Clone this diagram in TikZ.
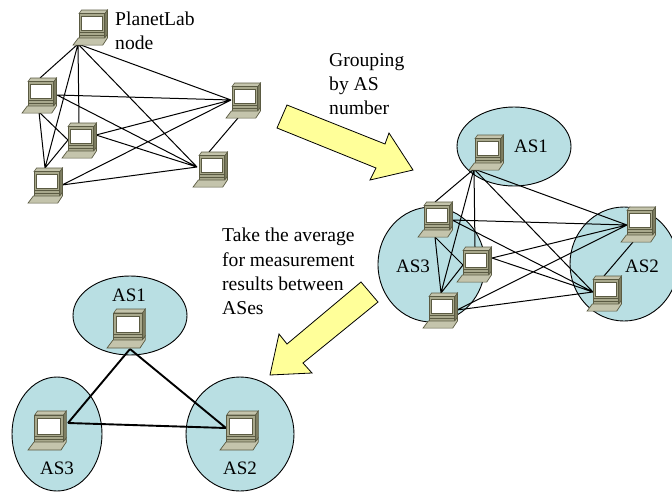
\documentclass[tikz,border=0pt]{standalone}
\usepackage{fontspec}
\setmainfont{Liberation Serif}
\usetikzlibrary{shapes.geometric}
\definecolor{asfill}{HTML}{B9DFE3}
\definecolor{arrowfill}{HTML}{FFFF99}
\definecolor{pcbody}{HTML}{A8A88C}
\definecolor{pcdark}{HTML}{5A5A42}
\definecolor{pcside}{HTML}{7E7E62}
\definecolor{pclight}{HTML}{C4C4AC}
\tikzset{
  asarea/.style={draw=black,fill=asfill,line width=0.9pt,ellipse,inner sep=0pt,outer sep=0pt},
  link/.style={draw=black,line width=1pt},
  strong/.style={draw=black,line width=1.9pt},
  bigarrow/.style={draw=black,fill=arrowfill,line width=0.8pt,line join=miter},
  lbl/.style={font=\fontsize{19.6}{24.3}\selectfont,align=left,inner sep=0pt},
  aslbl/.style={font=\fontsize{19}{22}\selectfont,inner sep=0pt},
  computer/.pic={
    \path[fill=pcside,draw=pcdark,line width=0.6pt] (35.3,4)--(38.3,0)--(38.3,27)--(35.3,31)--cycle;
    \path[fill=pclight,draw=pcdark,line width=0.6pt] (6.7,4)--(9.5,0)--(38.3,0)--(35.3,4)--cycle;
    \path[fill=pcbody,draw=pcdark,line width=0.9pt] (6.7,4) rectangle (35.3,25);
    \path[fill=white,draw=pcdark,line width=0.7pt] (9.3,7) rectangle (32.7,23);
    \path[fill=pcbody,draw=pcdark,line width=0.6pt] (6.7,25) rectangle (35.3,31);
    \path[draw=pcdark,line width=1.1pt] (6.7,28.5)--(35.3,28.5);
    \path[fill=pclight,draw=pcdark,line width=0.7pt] (6,31)--(35.3,31)--(38.3,27)--(38.3,31)--(33,39)--(0,39)--cycle;
  }
}
\begin{document}
\begin{tikzpicture}[x=1pt,y=-1pt]
\useasboundingbox (0,0) rectangle (672,493);
\clip (0,0) rectangle (672,493);

% top-left group: connection points
\coordinate (a1) at (78,44);
\coordinate (b1t) at (40,78); \coordinate (b1r) at (57,95); \coordinate (b1b) at (39,112);
\coordinate (c1t) at (79,123); \coordinate (c1r) at (96,135); \coordinate (c1l) at (68,140);
\coordinate (d1t) at (45,168); \coordinate (d1r) at (62,185);
\coordinate (e1l) at (231,100); \coordinate (e1b) at (238,118);
\coordinate (f1l) at (197,167); \coordinate (f1t) at (209,152);
\draw[link] (a1)--(b1t) (a1)--(c1t) (a1)--(d1t) (a1)--(e1l) (a1)--(f1l)
  (b1r)--(e1l) (b1r)--(f1l) (b1b)--(d1t) (b1b)--(c1l)
  (c1l)--(d1t) (c1r)--(e1l) (c1r)--(f1l)
  (d1r)--(e1l) (d1r)--(f1l) (e1b)--(f1t);
\pic[scale=0.9] at (73,10) {computer};
\pic[scale=0.9] at (22,78) {computer};
\pic[scale=0.9] at (62,123) {computer};
\pic[scale=0.9] at (28,168) {computer};
\pic[scale=0.9] at (226,83) {computer};
\pic[scale=0.9] at (193,152) {computer};
\node[lbl,anchor=north west] (planet) at (115,11.5) {PlanetLab\\node};
\node[lbl,anchor=north west] (grouping) at (329,53) {Grouping\\by AS\\number};
\node[lbl,anchor=north west] (average) at (222,228) {Take the average\\for measurement\\results between\\ASes};

% big arrows
\draw[bigarrow] (287,105)--(385,144)--(389,133)--(413,170)--(370,180)--(376,168)--(277,128)--cycle;
\draw[bigarrow] (361,282)--(378,302)--(303,363)--(312,373)--(270,375)--(279,334)--(287,344)--cycle;

% right group
\node[asarea,minimum width=114pt,minimum height=79pt] (r1) at (514,146.5) {};
\node[asarea,minimum width=107pt,minimum height=115pt] (r3) at (431.5,264.5) {};
\node[asarea,minimum width=108pt,minimum height=114pt] (r2) at (624,264) {};
\node[aslbl] (r1t) at (531,146) {AS1};
\node[aslbl] (r3t) at (413,266) {AS3};
\node[aslbl] (r2t) at (642,266) {AS2};
\coordinate (a2) at (474,169);
\coordinate (b2t) at (435,202); \coordinate (b2r) at (452,220); \coordinate (b2b) at (435,237);
\coordinate (c2t) at (475,247); \coordinate (c2r) at (492,258); \coordinate (c2l) at (463,265);
\coordinate (d2t) at (441,293); \coordinate (d2r) at (457,310);
\coordinate (e2l) at (627,225); \coordinate (e2b) at (633,242);
\coordinate (f2l) at (593,292); \coordinate (f2t) at (604,276);
\draw[link] (a2)--(b2t) (a2)--(c2t) (a2)--(d2t) (a2)--(e2l) (a2)--(f2l)
  (b2r)--(e2l) (b2r)--(f2l) (b2b)--(d2t) (b2b)--(c2l)
  (c2l)--(d2t) (c2r)--(e2l) (c2r)--(f2l)
  (d2r)--(e2l) (d2r)--(f2l) (e2b)--(f2t);
\pic[scale=0.9] at (469,135) {computer};
\pic[scale=0.9] at (418,202) {computer};
\pic[scale=0.9] at (457,247) {computer};
\pic[scale=0.9] at (423,293) {computer};
\pic[scale=0.9] at (621,207) {computer};
\pic[scale=0.9] at (587,276) {computer};

% lower-left group
\node[asarea,minimum width=114pt,minimum height=79pt] (l1) at (130,315.5) {};
\node[asarea,minimum width=90pt,minimum height=114pt] (l3) at (57,434) {};
\node[asarea,minimum width=108pt,minimum height=114pt] (l2) at (240,434) {};
\node[aslbl] (l1t) at (129,295) {AS1};
\node[aslbl] (l3t) at (57,468) {AS3};
\node[aslbl] (l2t) at (240,468) {AS2};
\coordinate (a3) at (130,349);
\coordinate (c3) at (68,423);
\coordinate (b3) at (226,428);
\draw[strong] (a3)--(c3) (a3)--(b3) (c3)--(b3);
\pic at (107,309) {computer};
\pic at (28,411) {computer};
\pic at (220,411) {computer};
\end{tikzpicture}
\end{document}
